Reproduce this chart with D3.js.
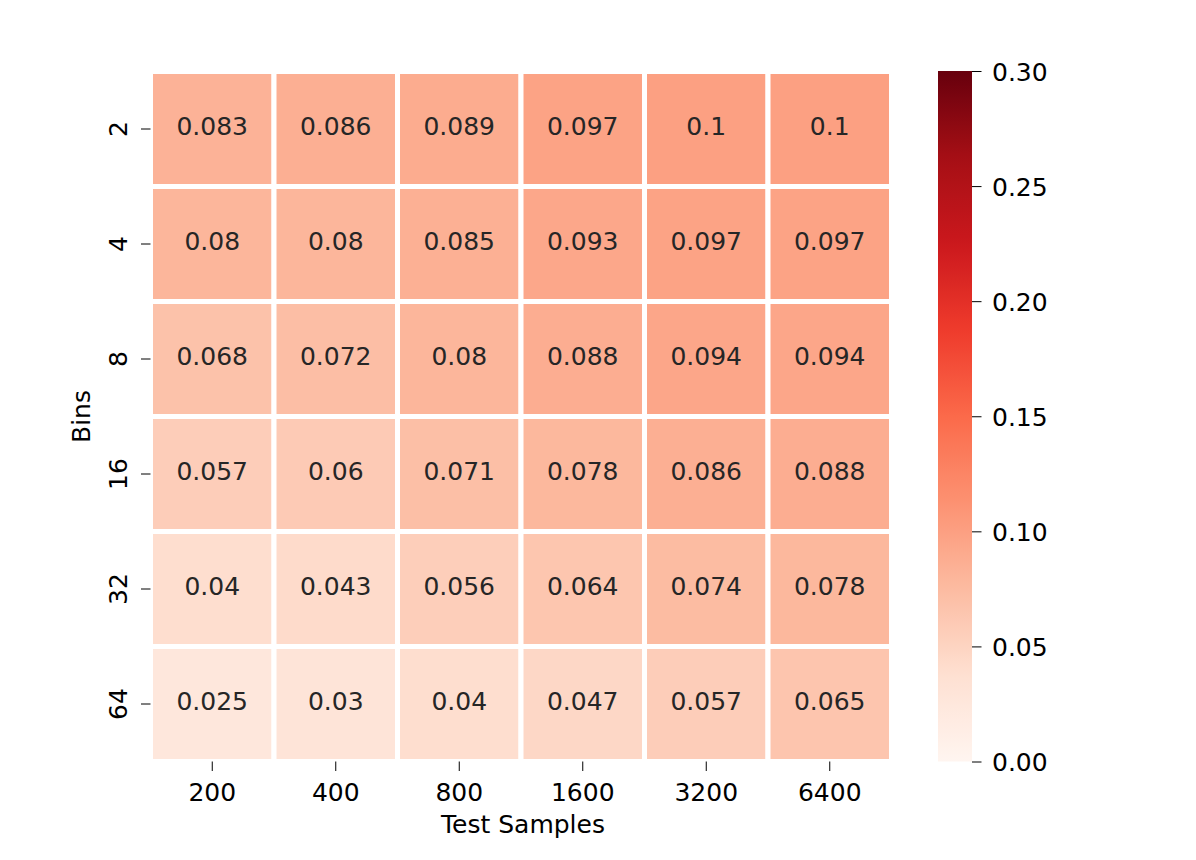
<!DOCTYPE html>
<html><head><meta charset="utf-8">
<script src="https://cdn.jsdelivr.net/npm/d3@7"></script>
<style>body{margin:0;background:#fff;} text{font-family:"DejaVu Sans",sans-serif;}</style>
</head><body>
<svg id="chart" width="1196" height="860"></svg>
<script>
const xLabels = ["200","400","800","1600","3200","6400"];
const yLabels = ["2","4","8","16","32","64"];
const row2  = [0.083,0.086,0.089,0.097,0.1,0.1];
const row4  = [0.08,0.08,0.085,0.093,0.097,0.097];
const row8  = [0.068,0.072,0.08,0.088,0.094,0.094];
const row16 = [0.057,0.06,0.071,0.078,0.086,0.088];
const row32 = [0.04,0.043,0.056,0.064,0.074,0.078];
const row64 = [0.025,0.03,0.04,0.047,0.057,0.065];
const rows = [row2,row4,row8,row16,row32,row64];
const cbTicks = [0,0.05,0.10,0.15,0.20,0.25,0.30];
const vmin = 0, vmax = 0.3;

const reds = ["#fff5f0","#fee0d2","#fcbba1","#fc9272","#fb6a4a","#ef3b2c","#cb181d","#a50f15","#67000d"];
const cmap = d3.scaleLinear().domain(d3.range(9).map(i=>i/8)).range(reds).interpolate(d3.interpolateRgb).clamp(true);
const color = v => cmap((v-vmin)/(vmax-vmin));

const FS = 25;
const svg = d3.select("#chart");
const L=150.5, R=891.5, T=71.5, B=761.5;
const x = d3.scaleBand().domain(xLabels).range([L,R]);
const y = d3.scaleBand().domain(yLabels).range([T,B]);

const cells = [];
rows.forEach((r,i)=>r.forEach((v,j)=>cells.push({row:yLabels[i],col:xLabels[j],v})));

svg.append("g").selectAll("rect").data(cells).join("rect")
  .attr("x",d=>x(d.col)).attr("y",d=>y(d.row))
  .attr("width",x.bandwidth()).attr("height",y.bandwidth())
  .attr("fill",d=>color(d.v)).attr("stroke","#fff").attr("stroke-width",5);

svg.append("g").selectAll("text").data(cells).join("text")
  .attr("x",d=>x(d.col)+x.bandwidth()/2).attr("y",d=>y(d.row)+y.bandwidth()/2+6)
  .attr("text-anchor","middle")
  .attr("font-size",FS).attr("fill","#262626").text(d=>String(d.v));

// x axis
const xa = svg.append("g").attr("transform",`translate(0,${B})`)
  .call(d3.axisBottom(x).tickSize(9.5).tickPadding(0));
xa.select(".domain").remove();
xa.selectAll("line").attr("stroke","#000").attr("stroke-width",1);
xa.selectAll("text").attr("font-size",FS).attr("fill","#000").attr("font-family","DejaVu Sans")
  .attr("dy",null).attr("y",39.5);

// y axis
const ya = svg.append("g").attr("transform",`translate(${L},0)`)
  .call(d3.axisLeft(y).tickSize(9.5).tickPadding(0));
ya.select(".domain").remove();
ya.selectAll("line").attr("stroke","#000").attr("stroke-width",1);
ya.selectAll("text").attr("font-size",FS).attr("fill","#000").attr("font-family","DejaVu Sans")
  .attr("text-anchor","middle").attr("dy",null).attr("x",0).attr("y",0)
  .attr("transform",`translate(${127-L},0) rotate(-90)`);

svg.append("text").attr("x",(L+R)/2+2).attr("y",833).attr("text-anchor","middle")
  .attr("font-size",FS).attr("fill","#000").text("Test Samples");
svg.append("text").attr("transform",`translate(90,${(T+B)/2}) rotate(-90)`).attr("text-anchor","middle")
  .attr("font-size",FS).attr("fill","#000").text("Bins");

// colorbar
const cbL=938, cbR=972, cbT=71, cbB=761.5;
const defs = svg.append("defs");
const grad = defs.append("linearGradient").attr("id","cb").attr("x1",0).attr("x2",0).attr("y1",1).attr("y2",0);
d3.range(0,1.0001,0.02).forEach(t=>grad.append("stop").attr("offset",t).attr("stop-color",cmap(t)));
svg.append("rect").attr("x",cbL).attr("y",cbT).attr("width",cbR-cbL).attr("height",cbB-cbT).attr("fill","url(#cb)");
const cy = d3.scaleLinear().domain([vmin,vmax]).range([cbB,cbT]);
const ca = svg.append("g").attr("transform",`translate(${cbR},0)`)
  .call(d3.axisRight(cy).tickValues(cbTicks).tickFormat(d3.format(".2f")).tickSize(9.5).tickPadding(0));
ca.select(".domain").remove();
ca.selectAll("line").attr("stroke","#000").attr("stroke-width",1);
ca.selectAll("text").attr("font-size",FS).attr("fill","#000").attr("font-family","DejaVu Sans")
  .attr("x",20).attr("dy",null).attr("y",9);
</script>
</body></html>
